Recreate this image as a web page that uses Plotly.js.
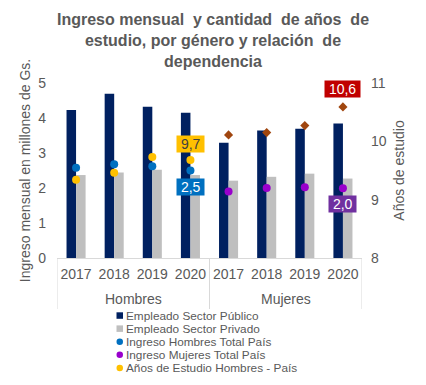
<!DOCTYPE html>
<html>
<head>
<meta charset="utf-8">
<script src="https://cdn.plot.ly/plotly-3.0.1.min.js"></script>
<style>html,body{margin:0;padding:0;background:#fff;}#chart{width:426px;height:385px;}</style>
</head>
<body>
<div id="chart"></div>
<script>
// ---- data ----
const groups = ["Hombres","Hombres","Hombres","Hombres","Mujeres","Mujeres","Mujeres","Mujeres"];
const years = ["2017","2018","2019","2020","2017","2018","2019","2020"];
const sectorPublico = [4.23, 4.69, 4.32, 4.15, 3.29, 3.64, 3.69, 3.84];
const sectorPrivado = [2.37, 2.44, 2.52, 2.37, 2.21, 2.32, 2.41, 2.27];
const ingresoHombres = [2.58, 2.68, 2.62, 2.50];
const ingresoMujeres = [1.90, 2.00, 2.02, 1.99];
const aniosHombres = [9.34, 9.46, 9.73, 9.68];
const aniosMujeres = [10.11, 10.15, 10.27, 10.59];
const groupNames = ["Hombres", "Mujeres"];

const FONT = "Liberation Sans, Arial, sans-serif";
const GREY = "#595959";

// category keys (unique per group/year), shown with the year as tick text
const cats = groups.map((g, i) => g + " " + years[i]);
const catsOf = g => cats.filter((c, i) => groups[i] === g);

// plot box in pixels (for legend placement helpers)
const L = 57, R = 362, T = 83, B = 258;
const px = v => (v - L) / (R - L);
const py = v => (B - v) / (B - T);

const traces = [
  {type:"bar", name:"Empleado Sector Público", x:cats, y:sectorPublico,
   marker:{color:"#002060"}, showlegend:false},
  {type:"bar", name:"Empleado Sector Privado", x:cats, y:sectorPrivado,
   marker:{color:"#BFBFBF"}, showlegend:false},
  {type:"scatter", mode:"markers", name:"Ingreso Hombres Total País", x:catsOf("Hombres"), y:ingresoHombres,
   marker:{color:"#0070C0", size:8}, showlegend:false},
  {type:"scatter", mode:"markers", name:"Ingreso Mujeres Total País", x:catsOf("Mujeres"), y:ingresoMujeres,
   marker:{color:"#9900CC", size:8}, showlegend:false},
  {type:"scatter", mode:"markers", name:"Años de Estudio Hombres - País", x:catsOf("Hombres"), y:aniosHombres,
   yaxis:"y2", marker:{color:"#FFC000", size:8}, showlegend:false},
  {type:"scatter", mode:"markers", name:"Años de Estudio Mujeres - País", x:catsOf("Mujeres"), y:aniosMujeres,
   yaxis:"y2", marker:{color:"#A0460F", size:7, symbol:"diamond"}, showlegend:false}
];

const fmt = v => "\u00a0" + v.toFixed(1).replace(".", ",") + "\u00a0";
const last = a => a[a.length - 1];
const lastCat = g => { const c = catsOf(g); return c[c.length - 1]; };

const annotations = [
  {x:lastCat("Hombres"), y:last(aniosHombres), xref:"x", yref:"y2", text:fmt(last(aniosHombres)), showarrow:false,
   yshift:16, bgcolor:"#FFC000", font:{family:FONT, size:14, color:"#404040"}, borderpad:0},
  {x:lastCat("Hombres"), y:last(ingresoHombres), xref:"x", yref:"y", text:fmt(last(ingresoHombres)), showarrow:false,
   yshift:-16, bgcolor:"#0070C0", font:{family:FONT, size:14, color:"#FFFFFF"}, borderpad:0},
  {x:lastCat("Mujeres"), y:last(aniosMujeres), xref:"x", yref:"y2", text:fmt(last(aniosMujeres)), showarrow:false,
   yshift:18, bgcolor:"#C00000", font:{family:FONT, size:14, color:"#FFFFFF"}, borderpad:0},
  {x:lastCat("Mujeres"), y:last(ingresoMujeres), xref:"x", yref:"y", text:fmt(last(ingresoMujeres)), showarrow:false,
   yshift:-16, bgcolor:"#7030A0", font:{family:FONT, size:14, color:"#FFFFFF"}, borderpad:0}
];

// group labels and dividers for the two-level category axis
const shapes = [];
const nPer = cats.length / groupNames.length;
groupNames.forEach((g, gi) => {
  annotations.push({x:gi * nPer + (nPer - 1) / 2, xref:"x", yref:"paper", y:py(299), yanchor:"middle",
    text:g, showarrow:false, font:{family:FONT, size:14, color:GREY}});
});
for (let k = 0; k <= groupNames.length; k++) {
  shapes.push({type:"line", xref:"x", yref:"paper", x0:k * nPer - 0.5, x1:k * nPer - 0.5, y0:0, y1:py(309),
    line:{color:"#D9D9D9", width:1}});
}

// custom compact legend (one row per series)
const legendItems = [
  {name:"Empleado Sector Público", color:"#002060", shape:"rect"},
  {name:"Empleado Sector Privado", color:"#BFBFBF", shape:"rect"},
  {name:"Ingreso Hombres Total País", color:"#0070C0", shape:"circle"},
  {name:"Ingreso Mujeres Total País", color:"#9900CC", shape:"circle"},
  {name:"Años de Estudio Hombres - País", color:"#FFC000", shape:"circle"}
];
const LSTEP = 13.1, LTOP = 315.5;
legendItems.forEach((it, i) => {
  const cy = LTOP + i * LSTEP;
  annotations.push({xref:"paper", yref:"paper", x:px(124.5), y:py(cy), xanchor:"left", yanchor:"middle",
    text:it.name, showarrow:false, font:{family:FONT, size:11.8, color:GREY}, borderpad:0});
  shapes.push({type:it.shape, xref:"paper", yref:"paper", x0:px(116.5), x1:px(123), y0:py(cy+3.3), y1:py(cy-3.2),
    fillcolor:it.color, line:{width:0}});
});

const layout = {
  width:426, height:385,
  margin:{l:L, r:426-R, t:T, b:385-B},
  paper_bgcolor:"#FFFFFF", plot_bgcolor:"#FFFFFF",
  font:{family:FONT, color:GREY, size:14},
  title:{text:"<b>Ingreso mensual  y cantidad  de años  de<br>estudio, por género y relación  de<br>dependencia</b>",
    x:0.5, xanchor:"center", yref:"container", y:0.935, yanchor:"top",
    font:{family:FONT, size:16, color:GREY}},
  barmode:"group", bargap:0.5, bargroupgap:0,
  showlegend:false,
  xaxis:{type:"category", range:[-0.5, cats.length - 0.5], tickvals:cats, ticktext:years,
    showgrid:false, zeroline:false, showline:true, linecolor:"#D9D9D9", linewidth:1,
    ticks:"", tickangle:0, ticklabelstandoff:3, tickfont:{family:FONT, size:14, color:GREY}},
  yaxis:{range:[0,5], dtick:1, showgrid:false, zeroline:false, showline:false, ticks:"",
    ticklabelstandoff:10, tickfont:{family:FONT, size:14, color:GREY},
    title:{text:"Ingreso mensual en millones de Gs.", font:{family:FONT, size:14, color:GREY}, standoff:4}},
  yaxis2:{range:[8,11], dtick:1, overlaying:"y", side:"right", showgrid:false, zeroline:false, showline:false, ticks:"",
    ticklabelstandoff:8, tickfont:{family:FONT, size:14, color:GREY},
    title:{text:"Años de estudio", font:{family:FONT, size:14, color:GREY}, standoff:8}},
  annotations:annotations,
  shapes:shapes
};

Plotly.newPlot("chart", traces, layout, {displayModeBar:false, staticPlot:true});
</script>
</body>
</html>
